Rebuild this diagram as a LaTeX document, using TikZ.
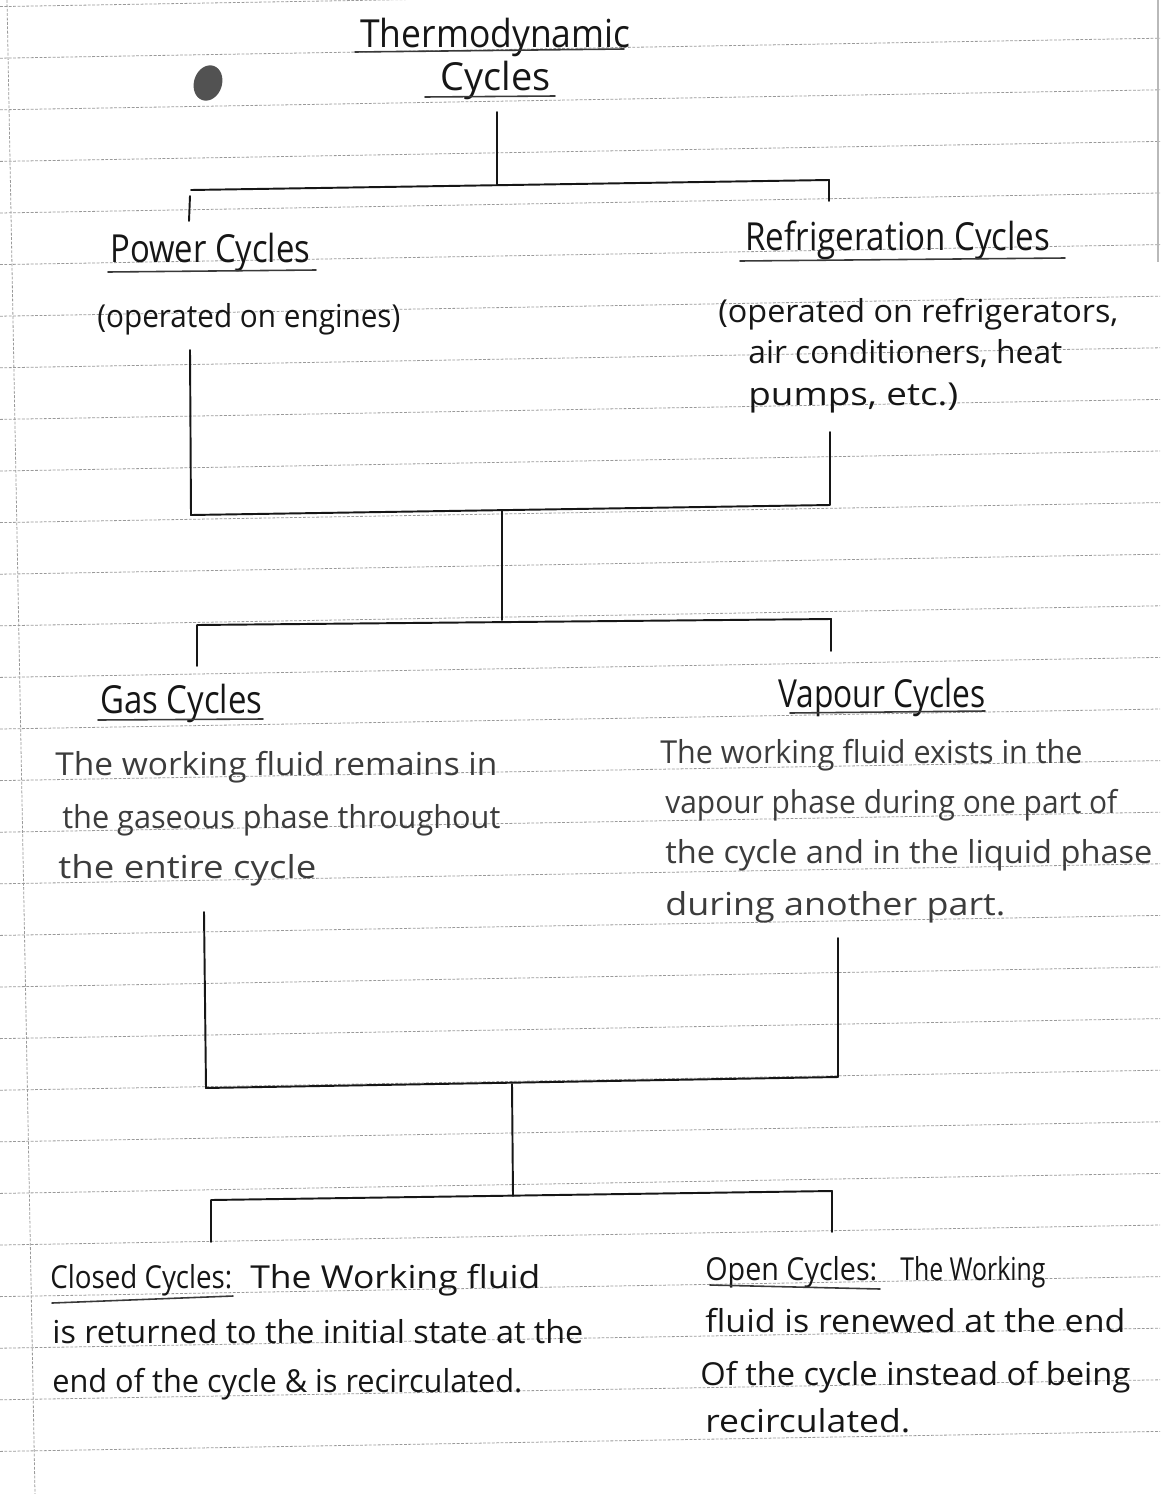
\documentclass[tikz,border=0pt]{standalone}
\usepackage{fontspec}
\setmainfont{Open Sans}
\usepackage{graphicx}
\usetikzlibrary{calc}
% one unit of the drawing grid
\newlength\pxu
\setlength\pxu{0.02cm}
% set a line of writing to a given width (in grid units), keeping its height
\newcommand\fitw[2]{\resizebox{#1\pxu}{\height}{#2}}
\definecolor{ink}{HTML}{161616}
\definecolor{pencil}{HTML}{3C3C3C}
\definecolor{ruling}{HTML}{9A9A9A}
\tikzset{
  hand/.style={inner sep=0pt, anchor=base west, text=ink, font=\fontsize{18}{22}\selectfont},
  soft/.style={hand, text=pencil},
  head/.style={hand, font=\fontsize{22}{26}\selectfont},
  ruleline/.style={draw=ruling, line width=0.45pt, dash pattern=on 1.6pt off 0.9pt},
  branch/.style={draw=ink, line width=1.1pt, line cap=round, line join=round},
  uline/.style={draw=ink!85, line width=0.9pt, line cap=round},
}
\begin{document}
\begin{tikzpicture}[x=0.02cm, y=-0.02cm]
\useasboundingbox (0,0) rectangle (1160,1494);
\fill[white] (0,0) rectangle (1160,1494);

% ruled notebook paper
\begin{scope}
  \clip (0,0) rectangle (1160,1494);
  \foreach \k in {-4,...,24}
    \draw[ruleline] (0,{213+51.6*\k}) -- (1160,{193+51.6*\k});
  \draw[ruleline] (7,0) -- (35,1494);
  \draw[gray!55, line width=1.6pt] (1158,0) -- (1158,262);
  % ink blot
  \fill[black!68, rotate around={-18:(208,83)}] (208,83) ellipse [x radius=14, y radius=18];
\end{scope}

% ---------- title ----------
\node[head] (th1) at (360,47) {\fitw{270}{Thermodynamic}};
\node[head] (th2) at (440,90) {\fitw{110}{Cycles}};
\draw[uline] (355,52) -- (624,49);
\draw[uline] (425,97) -- (555,96);

% ---------- first level ----------
\node[head] (pw) at (110,262) {\fitw{200}{Power Cycles}};
\draw[uline] (108,272) -- (316,270);
\node[hand] (pwn) at (97,327) {\fitw{303}{(operated on engines)}};

\node[head] (rf) at (745,250) {\fitw{305}{Refrigeration Cycles}};
\draw[uline] (740,261) -- (1065,258);
\node[hand] (rf1) at (718,322) {\fitw{400}{(operated on refrigerators,}};
\node[hand] (rf2) at (748,363) {\fitw{314}{air conditioners, heat}};
\node[hand] (rf3) at (748,405) {\fitw{210}{pumps, etc.)}};

% ---------- second level ----------
\node[head] (gas) at (100,713) {\fitw{162}{Gas Cycles}};
\draw[uline] (98,720) -- (263,719);
\node[soft] (g1) at (55,775) {\fitw{442}{The working fluid remains in}};
\node[soft] (g2) at (62,828) {\fitw{438}{the gaseous phase throughout}};
\node[soft] (g3) at (58,878) {\fitw{258}{the entire cycle}};

\node[head] (vp) at (778,707) {\fitw{207}{Vapour Cycles}};
\draw[uline] (790,713) -- (985,711);
\node[soft] (v1) at (660,763) {\fitw{422}{The working fluid exists in the}};
\node[soft] (v2) at (665,813) {\fitw{452}{vapour phase during one part of}};
\node[soft] (v3) at (665,863) {\fitw{487}{the cycle and in the liquid phase}};
\node[soft] (v4) at (665,915) {\fitw{340}{during another part.}};

% ---------- third level ----------
\node[hand] (cla) at (50,1288) {\fitw{182}{Closed Cycles:}};
\node[hand] (clb) at (250,1288) {\fitw{290}{The Working fluid}};
\draw[uline] (52,1303) -- (233,1296);
\node[hand] (cl2) at (52,1343) {\fitw{531}{is returned to the initial state at the}};
\node[hand] (cl3) at (52,1392) {\fitw{470}{end of the cycle \& is recirculated.}};

\node[hand] (opa) at (705,1280) {\fitw{172}{Open Cycles:}};
\node[hand] (opb) at (900,1280) {\fitw{145}{The Working}};
\draw[uline] (710,1285) -- (880,1289);
\node[hand] (op2) at (705,1332) {\fitw{420}{fluid is renewed at the end}};
\node[hand] (op3) at (700,1385) {\fitw{430}{Of the cycle instead of being}};
\node[hand] (op4) at (705,1432) {\fitw{205}{recirculated.}};

% ---------- branching lines ----------
% title splits into power / refrigeration
\coordinate (a0) at (497,112);
\coordinate (a1) at (497,184);
\coordinate (aL) at (191,190);
\coordinate (aR) at (829,180);
\coordinate (aRd) at (829,201);
\coordinate (aLt) at (190,196);
\coordinate (aLd) at (189,221);
\draw[branch] (a0) -- (a1);
\draw[branch] (aL) -- (aR) -- (aRd);
\draw[branch] (aLt) -- (aLd);

% power / refrigeration merge, then split into gas / vapour
\coordinate (bLu) at (190,350);
\coordinate (bL) at (191,515);
\coordinate (bRu) at (830,432);
\coordinate (bR) at (830,505);
\coordinate (bM) at (502,511);
\coordinate (bMd) at (502,620);
\draw[branch] (bLu) -- (bL) -- (bR) -- (bRu);
\draw[branch] (bM) -- (bMd);
\coordinate (cL) at (197,625);
\coordinate (cLd) at (197,666);
\coordinate (cR) at (831,619);
\coordinate (cRd) at (831,651);
\draw[branch] (cLd) -- (cL) -- (cR) -- (cRd);

% gas / vapour merge, then split into closed / open
\coordinate (dLu) at (204,912);
\coordinate (dL) at (206,1088);
\coordinate (dRu) at (838,938);
\coordinate (dR) at (838,1077);
\coordinate (dM) at (512,1084);
\coordinate (dMd) at (513,1196);
\draw[branch] (dLu) -- (dL) -- (dR) -- (dRu);
\draw[branch] (dM) -- (dMd);
\coordinate (eL) at (211,1200);
\coordinate (eLd) at (211,1242);
\coordinate (eR) at (832,1191);
\coordinate (eRd) at (832,1232);
\draw[branch] (eLd) -- (eL) -- (eR) -- (eRd);
\end{tikzpicture}
\end{document}
